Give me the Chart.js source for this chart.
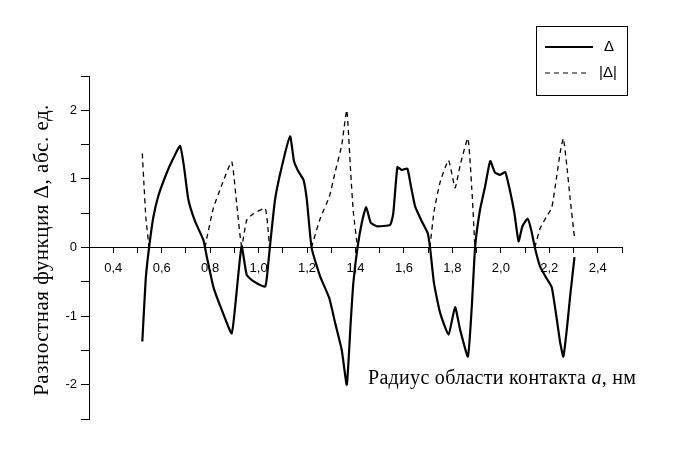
<!DOCTYPE html>
<html>
<head>
<meta charset="utf-8">
<script src="https://cdn.jsdelivr.net/npm/chart.js@4"></script>
<style>
  html, body { margin: 0; padding: 0; background: #fff; }
  #wrap { width: 678px; height: 457px; }
</style>
</head>
<body>
<div id="wrap"><canvas id="chart" width="678" height="457"></canvas></div>
<script>
// Радиус a, нм и разностная функция Δ (сплошная линия)
const deltaX = [0.520, 0.527, 0.535, 0.548, 0.565, 0.586, 0.621, 0.648, 0.676, 0.692,
  0.710, 0.738, 0.772, 0.786, 0.813, 0.848, 0.889, 0.910, 0.930, 0.951,
  0.978, 1.027, 1.040, 1.047, 1.068, 1.096, 1.130, 1.146, 1.164, 1.185,
  1.199, 1.219, 1.254, 1.292, 1.316, 1.343, 1.364, 1.380, 1.391, 1.408,
  1.426, 1.444, 1.463, 1.488, 1.543, 1.556, 1.573, 1.591, 1.614, 1.629,
  1.646, 1.674, 1.698, 1.708, 1.724, 1.749, 1.784, 1.811, 1.832, 1.864,
  1.880, 1.894, 1.914, 1.935, 1.956, 1.976, 1.997, 2.018, 2.035, 2.056,
  2.073, 2.089, 2.111, 2.125, 2.141, 2.162, 2.187, 2.210, 2.231, 2.245,
  2.258, 2.272, 2.286, 2.304];
const deltaY = [-1.37, -0.91, -0.42, 0.00, 0.43, 0.75, 1.09, 1.30, 1.48, 1.18,
  0.70, 0.38, 0.11, -0.13, -0.57, -0.91, -1.25, -0.62, 0.02, -0.40,
  -0.49, -0.57, -0.23, 0.02, 0.70, 1.18, 1.62, 1.26, 1.11, 0.99,
  0.70, -0.01, -0.42, -0.74, -1.10, -1.49, -2.00, -1.10, -0.52, -0.01,
  0.36, 0.59, 0.36, 0.31, 0.33, 0.50, 1.17, 1.13, 1.15, 0.89,
  0.60, 0.38, 0.21, -0.01, -0.52, -0.95, -1.27, -0.87, -1.20, -1.59,
  -0.86, 0.02, 0.55, 0.89, 1.26, 1.09, 1.06, 1.10, 0.87, 0.50,
  0.09, 0.31, 0.42, 0.26, -0.01, -0.28, -0.44, -0.58, -1.05, -1.39,
  -1.59, -1.20, -0.71, -0.14];

// |Δ| (пунктир), только там, где Δ < 0; null = разрыв
const absX = [0.520, 0.527, 0.535, 0.548, 0.660,
  0.779, 0.786, 0.813, 0.848, 0.889, 0.910, 0.930, 0.951, 0.978, 1.027, 1.040, 1.045, 1.130,
  1.218, 1.254, 1.292, 1.316, 1.343, 1.364, 1.380, 1.391, 1.408, 1.550,
  1.707, 1.724, 1.749, 1.784, 1.811, 1.832, 1.864, 1.880, 1.893, 2.000,
  2.140, 2.162, 2.187, 2.210, 2.231, 2.245, 2.258, 2.272, 2.286, 2.304];
const absY = [1.37, 0.91, 0.42, 0.00, null,
  0.00, 0.13, 0.57, 0.91, 1.25, 0.62, 0.02, 0.40, 0.49, 0.57, 0.23, 0.00, null,
  0.00, 0.42, 0.74, 1.10, 1.49, 2.00, 1.10, 0.52, 0.01, null,
  0.00, 0.52, 0.95, 1.27, 0.87, 1.20, 1.59, 0.86, 0.00, null,
  0.00, 0.28, 0.44, 0.58, 1.05, 1.39, 1.59, 1.20, 0.71, 0.14];

const xTicks = [0.3, 0.4, 0.5, 0.6, 0.7, 0.8, 0.9, 1.0, 1.1, 1.2, 1.3, 1.4,
  1.5, 1.6, 1.7, 1.8, 1.9, 2.0, 2.1, 2.2, 2.3, 2.4, 2.5];
const xLabels = ["", "0,4", "", "0,6", "", "0,8", "", "1,0", "", "1,2", "", "1,4",
  "", "1,6", "", "1,8", "", "2,0", "", "2,2", "", "2,4", ""];
const yTicks = [-2.5, -2, -1.5, -1, -0.5, 0, 0.5, 1, 1.5, 2, 2.5];
const yLabels = ["", "-2", "", "-1", "", "0", "", "1", "", "2", ""];

const legendNames = ["\u0394", "|\u0394|"];
const xTitle = ["Радиус области контакта ", "a", ", нм"];
const yTitle = "Разностная функция \u0394, абс. ед.";

const toPoints = (xs, ys) => xs.map((x, i) => ({ x: x, y: ys[i] }));

// подписи осей и легенда рисуются поверх графика
const extras = {
  id: "extras",
  afterDraw(chart) {
    const ctx = chart.ctx;
    ctx.save();
    ctx.fillStyle = "#000";
    ctx.strokeStyle = "#000";

    // подпись оси Y
    ctx.save();
    ctx.translate(42, 250);
    ctx.rotate(-Math.PI / 2);
    ctx.font = '21px "Liberation Serif"';
    ctx.letterSpacing = "0.5px";
    ctx.textAlign = "center";
    ctx.textBaseline = "middle";
    ctx.fillText(yTitle, 0, 0);
    ctx.restore();

    // подпись оси X
    ctx.textBaseline = "alphabetic";
    ctx.textAlign = "left";
    ctx.letterSpacing = "0.3px";
    let x = 368;
    const base = 384;
    ctx.font = '20px "Liberation Serif"';
    ctx.fillText(xTitle[0], x, base);
    x += ctx.measureText(xTitle[0]).width;
    ctx.font = 'italic 20px "Liberation Serif"';
    ctx.fillText(xTitle[1], x, base);
    x += ctx.measureText(xTitle[1]).width;
    ctx.font = '20px "Liberation Serif"';
    ctx.fillText(xTitle[2], x, base);
    ctx.letterSpacing = "0px";

    // легенда
    ctx.lineWidth = 1;
    ctx.strokeRect(536.5, 26.5, 91, 69);
    ctx.font = '15px "Liberation Sans"';
    ctx.textBaseline = "middle";
    ctx.lineWidth = 2;
    ctx.beginPath();
    ctx.moveTo(545, 47);
    ctx.lineTo(593, 47);
    ctx.stroke();
    ctx.fillText(legendNames[0], 604, 47);
    ctx.lineWidth = 1;
    ctx.setLineDash([5, 4]);
    ctx.beginPath();
    ctx.moveTo(545, 73);
    ctx.lineTo(590, 73);
    ctx.stroke();
    ctx.setLineDash([]);
    ctx.fillText(legendNames[1], 599, 73);
    ctx.restore();
  }
};

new Chart(document.getElementById("chart"), {
  type: "line",
  data: {
    datasets: [
      {
        label: legendNames[0],
        data: toPoints(deltaX, deltaY),
        borderColor: "#000",
        borderWidth: 2.2,
        pointRadius: 0,
        tension: 0.15,
        fill: false,
      },
      {
        label: legendNames[1],
        data: toPoints(absX, absY),
        borderColor: "#000",
        borderWidth: 1.3,
        borderDash: [5, 4],
        pointRadius: 0,
        tension: 0.15,
        spanGaps: false,
        fill: false,
      },
    ],
  },
  options: {
    responsive: false,
    animation: false,
    devicePixelRatio: 1,
    layout: { padding: { left: 0, right: 56, top: 76, bottom: 38 } },
    plugins: {
      legend: { display: false },
      tooltip: { enabled: false },
    },
    scales: {
      x: {
        type: "linear",
        position: { y: 0 },
        min: 0.3,
        max: 2.5,
        afterBuildTicks: (scale) => { scale.ticks = xTicks.map((v) => ({ value: v })); },
        ticks: {
          autoSkip: false,
          maxRotation: 0,
          padding: 8,
          color: "#000",
          font: { family: '"Liberation Sans"', size: 13 },
          callback: (v, i) => xLabels[i],
        },
        grid: { drawOnChartArea: false, drawTicks: true, tickLength: 5, color: "#000" },
        border: { display: true, color: "#000", width: 1 },
      },
      y: {
        type: "linear",
        position: "left",
        min: -2.5,
        max: 2.5,
        afterBuildTicks: (scale) => { scale.ticks = yTicks.map((v) => ({ value: v })); },
        afterFit: (scale) => { scale.width = 89; },
        ticks: {
          autoSkip: false,
          padding: 4,
          color: "#000",
          font: { family: '"Liberation Sans"', size: 13 },
          callback: (v, i) => yLabels[i],
        },
        grid: { drawOnChartArea: false, drawTicks: true, tickLength: 8, color: "#000" },
        border: { display: true, color: "#000", width: 1 },
      },
    },
  },
  plugins: [extras],
});
</script>
</body>
</html>
